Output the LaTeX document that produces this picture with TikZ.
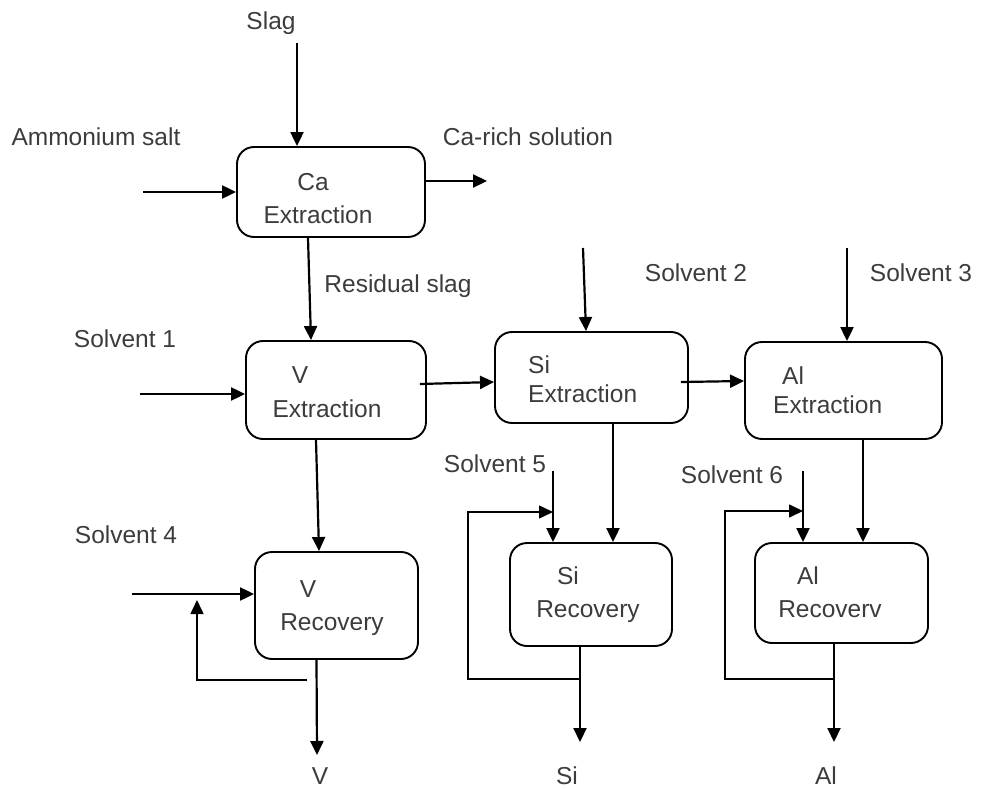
\documentclass[tikz,border=0pt]{standalone}
\usepackage{fontspec}
\setmainfont{Liberation Sans}
\usetikzlibrary{arrows.meta}
\definecolor{txtgray}{HTML}{3C3C3C}
\tikzset{
	unit/.style={draw, line width=1.9pt, rounded corners=17pt, inner sep=0pt},
	tip/.style={-{Triangle[length=14pt,width=13pt]}},
	flow/.style={tip, line width=2.2pt},
	back/.style={tip, line width=1.6pt},
	lbl/.style={text=txtgray, font=\fontsize{24.5}{29}\selectfont, inner sep=0pt, anchor=base},
	lbll/.style={lbl, anchor=base west}
}
\begin{document}
\begin{tikzpicture}[x=1pt,y=-1pt]
	\useasboundingbox (0,0) rectangle (994,789);
	
	\node[unit, minimum width=188pt, minimum height=90pt] (ca) at (331,192) {};
	\node[unit, minimum width=180pt, minimum height=98pt] (vex) at (336,390) {};
	\node[unit, minimum width=193pt, minimum height=91pt] (siex) at (591.5,377.5) {};
	\node[unit, minimum width=197pt, minimum height=97pt] (alex) at (843.5,390.5) {};
	\node[unit, minimum width=163pt, minimum height=107pt] (vrec) at (336.5,605.5) {};
	\node[unit, minimum width=162pt, minimum height=103pt] (sirec) at (591,594.5) {};
	\node[unit, minimum width=173pt, minimum height=100pt] (alrec) at (841.5,593) {};
	
	\node[lbl] (catxt) at (313,190) {Ca};
	\node[lbl] (caext) at (318,223) {Extraction};
	\node[lbl] (vtxt) at (300,383) {V};
	\node[lbl] (vext) at (327,417) {Extraction};
	\node[lbll] (sitxt) at (528,373) {Si};
	\node[lbll] (siext) at (528,402) {Extraction};
	\node[lbll] (altxt) at (782,384) {Al};
	\node[lbll] (alext) at (773,413) {Extraction};
	\node[lbl] (vrtxt) at (308,597) {V};
	\node[lbl] (vrrec) at (332,630) {Recovery};
	\node[lbl] (srtxt) at (568,584) {Si};
	\node[lbl] (srrec) at (588,617) {Recovery};
	\node[lbl] (artxt) at (808,584) {Al};
	\node[lbl] (arrec) at (830,617) {Recoverv};
	
	\node[lbl] (slag) at (271,30) {Slag};
	\node[lbl] (amm) at (96,146) {Ammonium salt};
	\node[lbl] (carich) at (528,146) {Ca-rich solution};
	\node[lbl] (resid) at (398,292) {Residual slag};
	\node[lbl] (solv1) at (125,347) {Solvent 1};
	\node[lbl] (solv2) at (696,281) {Solvent 2};
	\node[lbl] (solv3) at (921,281) {Solvent 3};
	\node[lbl] (solv4) at (126,543) {Solvent 4};
	\node[lbl] (solv5) at (495,472) {Solvent 5};
	\node[lbl] (solv6) at (732,483) {Solvent 6};
	\node[lbl] (vprod) at (320,784) {V};
	\node[lbl] (siprod) at (567,784) {Si};
	\node[lbl] (alprod) at (826,784) {Al};
	
	\coordinate (slagin) at (297,43);
	\coordinate (ammin) at (143,192);
	\coordinate (caout) at (487,181);
	\coordinate (s1in) at (140,394);
	\coordinate (s2in) at (583,248);
	\coordinate (s3in) at (847,248);
	\coordinate (s4in) at (132,594);
	\coordinate (s5in) at (553,471);
	\coordinate (s6in) at (803,471);
	\coordinate (vout) at (317,755);
	\coordinate (siout) at (580,742);
	\coordinate (alout) at (834,742);
	\coordinate (vloop) at (307,680);
	\coordinate (siloop) at (580,679);
	\coordinate (alloop) at (834,679);
	
	\draw[flow] (slagin) -- (slagin |- ca.north);
	\draw[flow] (ammin) -- (ca.west);
	\draw[flow] (ca.east |- caout) -- (caout);
	\draw[flow] ([xshift=-23pt]ca.south) -- ([xshift=-25pt]vex.north);
	\draw[flow] (s1in) -- (vex.west |- s1in);
	\draw[flow] ([xshift=-7pt,yshift=6pt]vex.east) -- ([yshift=-4.5pt]siex.west);
	\draw[flow] (s2in) -- ([xshift=-5.5pt]siex.north);
	\draw[flow] ([xshift=-8pt,yshift=-4.5pt]siex.east) -- ([yshift=9.5pt]alex.west);
	\draw[flow] (s3in) -- ([xshift=3.5pt]alex.north);
	
	\draw[flow] ([xshift=-20pt]vex.south) -- ([xshift=-17.5pt]vrec.north);
	\draw[flow] ([xshift=21.5pt]siex.south) -- ([xshift=22pt]sirec.north);
	\draw[flow] ([xshift=19.5pt]alex.south) -- ([xshift=21.5pt]alrec.north);
	
	\draw[flow] (s4in) -- (vrec.west |- s4in);
	\draw[flow] (s5in) -- ([xshift=-38pt]sirec.north);
	\draw[flow] (s6in) -- ([xshift=-38.5pt]alrec.north);
	
	\draw[back] (vloop) -- (197,680) -- (197,600);
	\draw[back] (siloop) -- (468,679) -- (468,512) -- (s5in |- 0,512);
	\draw[back] (alloop) -- (725,679) -- (725,511) -- (s6in |- 0,511);
	
	\draw[flow] ([xshift=-20pt]vrec.south) -- (vout);
	\draw[flow] (sirec.south -| siout) -- (siout);
	\draw[flow] (alrec.south -| alout) -- (alout);
\end{tikzpicture}
\end{document}
